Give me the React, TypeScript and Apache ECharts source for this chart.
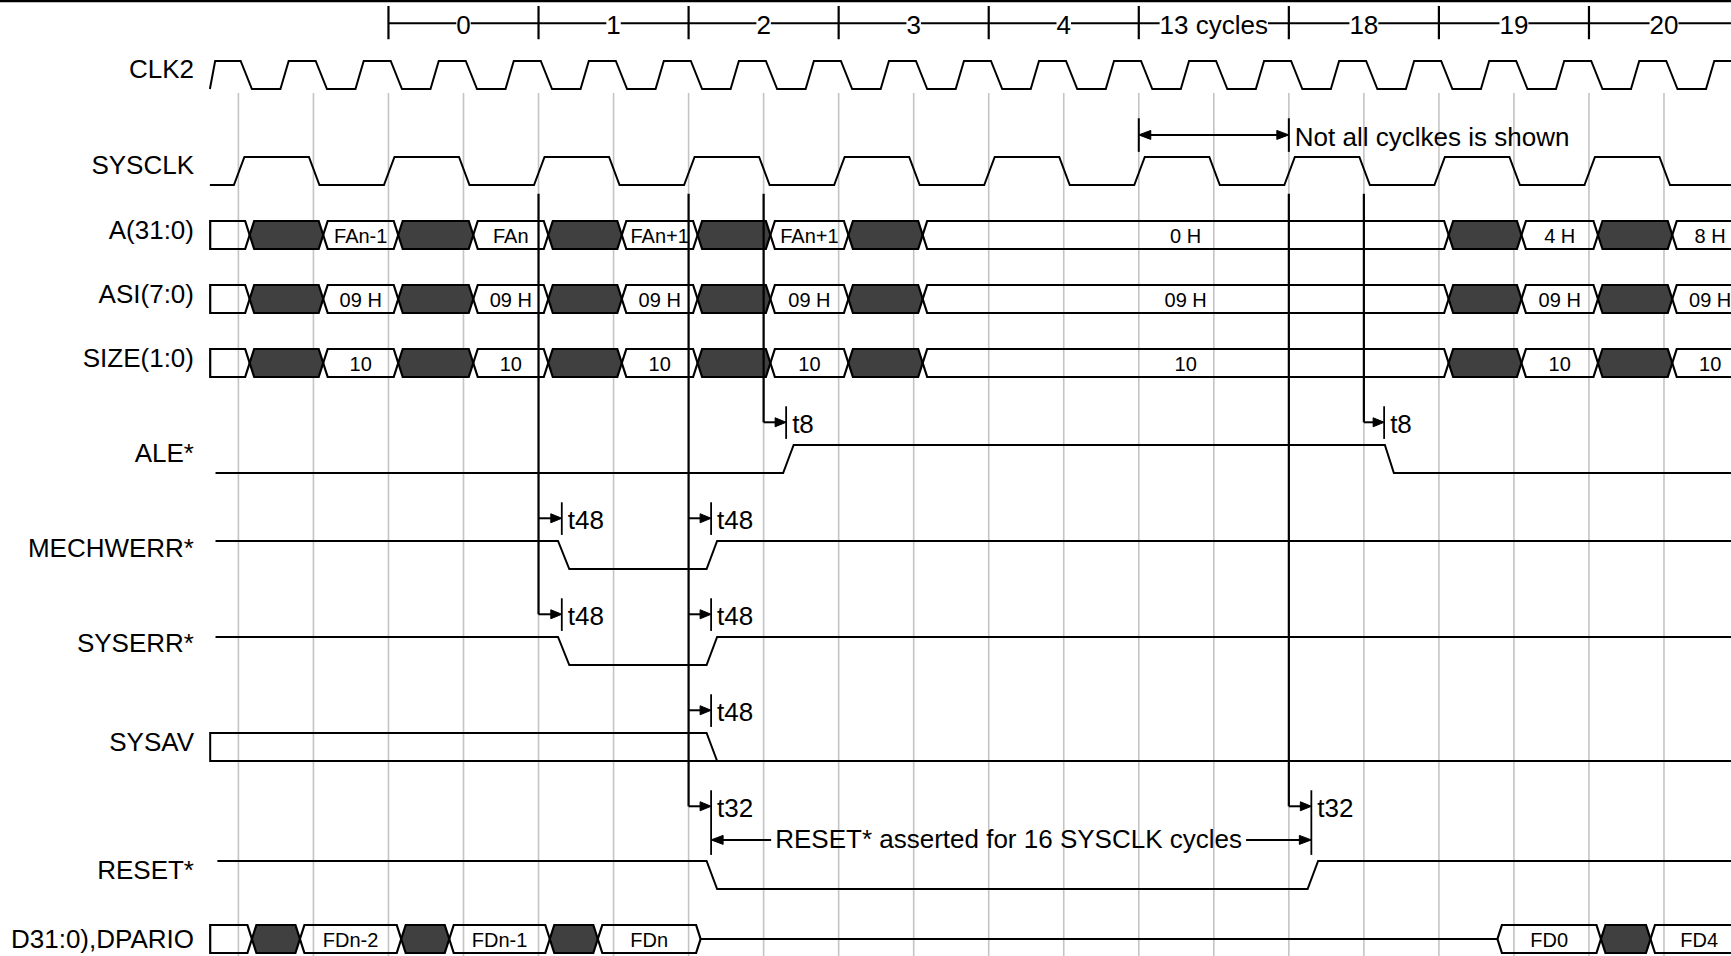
import React, { useEffect, useRef } from "react";
import * as echarts from "echarts";

const WIDTH = 1731;
const HEIGHT = 956;
const FONT = "'Liberation Sans', Arial, Helvetica, sans-serif";
const INK = "#000000";
const DARK = "#404040";
const GRID_GRAY = "#c4c4c4";

// x axis: time in CLK2 periods (gray grid lines), y axis: row units (inverse)
const X_MIN = -3.1774;
const X_MAX = 19.893;
const Y_MIN = 0.09375;
const Y_MAX = 29.96875;
const LOW = 0.875; // distance from high level to low level of a row

// ---------------- signals ----------------
const signalNames = [
  "CLK2",
  "SYSCLK",
  "A(31:0)",
  "ASI(7:0)",
  "SIZE(1:0)",
  "ALE*",
  "MECHWERR*",
  "SYSERR*",
  "SYSAV",
  "RESET*",
  "D31:0),DPARIO",
];
const signalRows = [2, 5, 7, 9, 11, 14, 17, 20, 23, 27, 29];
const labelDy = [0.24, 0.26, 0.27, 0.28, 0.28, 0.25, 0.22, 0.2, 0.27, 0.28, 0.44];
const LABEL_RIGHT_T = -0.592;

// gray grid lines (one per CLK2 period)
const gridTimes = [0, 1, 2, 3, 4, 5, 6, 7, 8, 9, 10, 11, 12, 13, 14, 15, 16, 17, 18, 19];
const GRID_TOP = 3.0;

// cycle counter on top
const cycleTicks = [2, 4, 6, 8, 10, 12, 14, 16, 18];
const cycleLabels = ["0", "1", "2", "3", "4", "13 cycles", "18", "19", "20"];

// clocks
const clk2Falls = [0.03, 1.03, 2.03, 3.03, 4.03, 5.03, 6.03, 7.03, 8.03, 9.03, 10.03, 11.03, 12.03, 13.03, 14.03, 15.03, 16.03, 17.03, 18.03, 19.03];
const clk2Rises = [0.56, 1.56, 2.56, 3.56, 4.56, 5.56, 6.56, 7.56, 8.56, 9.56, 10.56, 11.56, 12.56, 13.56, 14.56, 15.56, 16.56, 17.56, 18.56, 19.56];
const sysclkEdges = [0, 1, 2, 3, 4, 5, 6, 7, 8, 9, 10, 11, 12, 13, 14, 15, 16, 17, 18, 19]; // rise, fall, rise ...

// single-bit signals: [time, level(1 high, 0 low)]
const aleWave = [[-0.305, 0], [7.26, 0], [7.4, 1], [15.28, 1], [15.4, 0], [20.3, 0]];
const mechwerrWave = [[-0.305, 1], [4.26, 1], [4.41, 0], [6.24, 0], [6.38, 1], [20.3, 1]];
const syserrWave = [[-0.305, 1], [4.26, 1], [4.41, 0], [6.24, 0], [6.38, 1], [20.3, 1]];
const sysavWave = [[20.3, 0], [-0.376, 0], [-0.376, 1], [6.24, 1], [6.38, 0]];
const resetWave = [[-0.28, 1], [6.24, 1], [6.38, 0], [14.25, 0], [14.39, 1], [20.3, 1]];
const dFloatWave = [[6.15, 0.5], [16.79, 0.5]];

// buses: transition times and values (null = changing / invalid)
const busTimes = [-0.376, 0.15, 1.13, 2.13, 3.13, 4.13, 5.11, 6.12, 7.09, 8.13, 9.12, 16.13, 17.1, 18.12, 19.11, 20.12];
const aValues = ["", null, "FAn-1", null, "FAn", null, "FAn+1", null, "FAn+1", null, "0 H", null, "4 H", null, "8 H"];
const asiValues = ["", null, "09 H", null, "09 H", null, "09 H", null, "09 H", null, "09 H", null, "09 H", null, "09 H"];
const sizeValues = ["", null, "10", null, "10", null, "10", null, "10", null, "10", null, "10", null, "10"];
const dTimesA = [-0.376, 0.18, 0.82, 2.17, 2.81, 4.15, 4.79, 6.16];
const dValuesA = ["", null, "FDn-2", null, "FDn-1", null, "FDn"];
const dTimesB = [16.78, 18.16, 18.82, 20.12];
const dValuesB = ["FD0", null, "FD4"];

// timing annotations
const markerLines = [
  { t: 4, y1: 6.15, y2: 19.29 },
  { t: 6, y1: 6.15, y2: 25.29 },
  { t: 7, y1: 6.15, y2: 13.29 },
  { t: 14, y1: 6.15, y2: 25.29 },
  { t: 15, y1: 6.15, y2: 13.29 },
];
const timingArrows = [
  { from: 7, to: 7.3, y: 13.29, label: "t8", barEnd: 0 },
  { from: 15, to: 15.27, y: 13.29, label: "t8", barEnd: 0 },
  { from: 4, to: 4.31, y: 16.29, label: "t48", barEnd: 0 },
  { from: 6, to: 6.3, y: 16.29, label: "t48", barEnd: 0 },
  { from: 4, to: 4.31, y: 19.29, label: "t48", barEnd: 0 },
  { from: 6, to: 6.3, y: 19.29, label: "t48", barEnd: 0 },
  { from: 6, to: 6.3, y: 22.29, label: "t48", barEnd: 0 },
  { from: 6, to: 6.3, y: 25.29, label: "t32", barEnd: 26.81 },
  { from: 14, to: 14.3, y: 25.29, label: "t32", barEnd: 26.81 },
];
const notShownSpan = [12, 14];
const NOT_SHOWN_Y = 4.31;
const notShownText = "Not all cyclkes is shown";
const resetSpan = [6.3, 14.3];
const resetTextGap = [7.1, 13.43];
const RESET_ARROW_Y = 26.34;
const resetText = "RESET* asserted for 16 SYSCLK cycles";

// ---------------- helpers ----------------
type Seg = { t0: number; t1: number; row: number; value: string | null; first: boolean };
function buildSegs(times: number[], values: (string | null)[], row: number, flatStart: boolean): Seg[] {
  const out: Seg[] = [];
  for (let i = 0; i < values.length; i++) {
    out.push({ t0: times[i], t1: times[i + 1], row, value: values[i], first: flatStart && i === 0 });
  }
  return out;
}
const busSegs: Seg[] = [
  ...buildSegs(busTimes, aValues, signalRows[2], true),
  ...buildSegs(busTimes, asiValues, signalRows[3], true),
  ...buildSegs(busTimes, sizeValues, signalRows[4], true),
  ...buildSegs(dTimesA, dValuesA, signalRows[10], true),
  ...buildSegs(dTimesB, dValuesB, signalRows[10], false),
];

function clk2Points(): number[][] {
  const pts: number[][] = [[-0.38, 0], [-0.31, 1]];
  for (let i = 0; i < clk2Falls.length; i++) {
    pts.push([clk2Falls[i], 1], [clk2Falls[i] + 0.15, 0], [clk2Rises[i], 0], [clk2Rises[i] + 0.11, 1]);
  }
  pts.push([20.3, 1]);
  return pts;
}
function sysclkPoints(): number[][] {
  const pts: number[][] = [[-0.38, 0]];
  sysclkEdges.forEach((e, i) => {
    const rising = i % 2 === 0;
    pts.push([e - 0.06, rising ? 0 : 1], [e + 0.08, rising ? 1 : 0]);
  });
  pts.push([20.3, 0]);
  return pts;
}
function wave(pts: number[][], row: number): number[][] {
  return pts.map(([t, lv]) => [t, row + (1 - lv) * LOW]);
}

function lineEl(x1: number, y1: number, x2: number, y2: number, w = 2, color = INK) {
  return { type: "line", shape: { x1, y1, x2, y2 }, style: { stroke: color, lineWidth: w } };
}
function headEl(x: number, y: number, dir: number, len = 11, half = 4.5) {
  return {
    type: "polygon",
    shape: { points: [[x, y], [x - dir * len, y - half], [x - dir * len, y + half]] },
    style: { fill: INK, stroke: INK, lineWidth: 1 },
  };
}
function textEl(text: string, x: number, y: number, align: string, size: number, bg?: string) {
  const style: any = {
    text,
    x,
    y,
    align,
    verticalAlign: "middle",
    textAlign: align,
    textVerticalAlign: "middle",
    fontSize: size,
    fontFamily: FONT,
    fill: INK,
  };
  if (bg) {
    style.backgroundColor = bg;
    style.padding = [0, 0];
  }
  return { type: "text", style };
}

function buildOption(): any {
  const lineSeries = [
    { data: wave(clk2Points(), signalRows[0]) },
    { data: wave(sysclkPoints(), signalRows[1]) },
    { data: wave(aleWave, signalRows[5]) },
    { data: wave(mechwerrWave, signalRows[6]) },
    { data: wave(syserrWave, signalRows[7]) },
    { data: wave(sysavWave, signalRows[8]) },
    { data: wave(resetWave, signalRows[9]) },
    { data: wave(dFloatWave, signalRows[10]) },
  ].map((s, i) => ({
    type: "line",
    name: "wave" + i,
    data: s.data,
    symbol: "none",
    showSymbol: false,
    silent: true,
    z: 3,
    lineStyle: { color: INK, width: 2, join: "miter" },
  }));

  return {
    animation: false,
    backgroundColor: "#ffffff",
    grid: { left: 0, right: 0, top: 0, bottom: 0, containLabel: false },
    xAxis: {
      type: "value",
      min: X_MIN,
      max: X_MAX,
      show: false,
      splitLine: { show: false },
      axisLine: { show: false },
      axisTick: { show: false },
      axisLabel: { show: false },
    },
    yAxis: {
      type: "value",
      min: Y_MIN,
      max: Y_MAX,
      inverse: true,
      show: false,
      splitLine: { show: false },
      axisLine: { show: false },
      axisTick: { show: false },
      axisLabel: { show: false },
    },
    graphic: [
      {
        type: "line",
        silent: true,
        shape: { x1: 0, y1: 1, x2: WIDTH, y2: 1 },
        style: { stroke: INK, lineWidth: 2.5 },
      },
    ],
    series: [
      // gray grid
      {
        type: "custom",
        silent: true,
        z: 1,
        data: gridTimes.map((t) => [t, GRID_TOP]),
        renderItem: (params: any, api: any) => {
          const t = gridTimes[params.dataIndex];
          const p1 = api.coord([t, GRID_TOP]);
          const p2 = api.coord([t, Y_MAX]);
          return lineEl(p1[0], p1[1], p2[0], p2[1], 1.6, GRID_GRAY);
        },
      },
      // buses
      {
        type: "custom",
        silent: true,
        z: 2,
        data: busSegs.map((s) => [s.t0, s.row]),
        renderItem: (params: any, api: any) => {
          const s = busSegs[params.dataIndex];
          const a = api.coord([s.t0, s.row]);
          const b = api.coord([s.t1, s.row + LOW]);
          const x0 = a[0];
          const x1 = b[0];
          const yT = a[1];
          const yB = b[1];
          const yM = (yT + yB) / 2;
          const S = 4.5;
          const left = s.first
            ? [[x0, yB], [x0, yT]]
            : [[x0 + S, yB], [x0, yM], [x0 + S, yT]];
          const right = [[x1 - S, yT], [x1, yM], [x1 - S, yB]];
          const children: any[] = [
            {
              type: "polygon",
              shape: { points: [...left, ...right] },
              style: {
                fill: s.value === null ? DARK : "none",
                stroke: INK,
                lineWidth: 2.2,
                lineJoin: "miter",
              },
            },
          ];
          if (s.value) children.push(textEl(s.value, (x0 + x1) / 2, yM + 1, "center", 20));
          return { type: "group", children };
        },
      },
      ...lineSeries,
      // vertical reference lines
      {
        type: "custom",
        silent: true,
        z: 4,
        data: markerLines.map((m) => [m.t, m.y1]),
        renderItem: (params: any, api: any) => {
          const m = markerLines[params.dataIndex];
          const p1 = api.coord([m.t, m.y1]);
          const p2 = api.coord([m.t, m.y2]);
          return lineEl(p1[0], p1[1], p2[0], p2[1], 2.2);
        },
      },
      // timing arrows
      {
        type: "custom",
        silent: true,
        z: 4,
        data: timingArrows.map((a) => [a.from, a.y]),
        renderItem: (params: any, api: any) => {
          const a = timingArrows[params.dataIndex];
          const p0 = api.coord([a.from, a.y]);
          const p1 = api.coord([a.to, a.y]);
          const barTop = api.coord([a.to, a.y - 0.5]);
          const barBot = api.coord([a.to, Math.max(a.y + 0.52, a.barEnd)]);
          const labelPos = api.coord([a.to + 0.08, a.y + 0.06]);
          return {
            type: "group",
            children: [
              lineEl(p0[0], p0[1], p1[0] - 8, p1[1], 2),
              headEl(p1[0], p1[1], 1),
              lineEl(barTop[0], barTop[1], barBot[0], barBot[1], 1.8),
              textEl(a.label, labelPos[0], labelPos[1], "left", 26),
            ],
          };
        },
      },
      // signal names
      {
        type: "custom",
        silent: true,
        z: 4,
        data: signalRows.map((r) => [LABEL_RIGHT_T, r]),
        renderItem: (params: any, api: any) => {
          const i = params.dataIndex;
          const p = api.coord([LABEL_RIGHT_T, signalRows[i] + labelDy[i]]);
          return textEl(signalNames[i], p[0], p[1], "right", 26);
        },
      },
      // cycle counter
      {
        type: "custom",
        silent: true,
        z: 4,
        data: [[cycleTicks[0], 0.8]],
        renderItem: (params: any, api: any) => {
          const children: any[] = [];
          const l0 = api.coord([cycleTicks[0], 0.82]);
          const l1 = api.coord([20.3, 0.82]);
          children.push(lineEl(l0[0], l0[1], l1[0], l1[1], 2));
          cycleTicks.forEach((t) => {
            const a = api.coord([t, 0.28]);
            const b = api.coord([t, 1.32]);
            children.push(lineEl(a[0], a[1], b[0], b[1], 2.2));
          });
          cycleLabels.forEach((lab, i) => {
            const p = api.coord([cycleTicks[i] + 1, 0.86]);
            children.push(textEl(lab, p[0], p[1], "center", 26, "#ffffff"));
          });
          return { type: "group", children };
        },
      },
      // span annotations
      {
        type: "custom",
        silent: true,
        z: 4,
        data: [[notShownSpan[0], NOT_SHOWN_Y]],
        renderItem: (params: any, api: any) => {
          const children: any[] = [];
          // "Not all cycles shown" span
          const a = api.coord([notShownSpan[0], NOT_SHOWN_Y]);
          const b = api.coord([notShownSpan[1], NOT_SHOWN_Y]);
          const bt = api.coord([notShownSpan[0], NOT_SHOWN_Y - 0.52]);
          const bb = api.coord([notShownSpan[0], NOT_SHOWN_Y + 0.53]);
          children.push(lineEl(a[0] + 8, a[1], b[0] - 8, b[1], 2));
          children.push(headEl(a[0], a[1], -1, 12, 4.5));
          children.push(headEl(b[0], b[1], 1, 12, 4.5));
          children.push(lineEl(a[0], bt[1], a[0], bb[1], 2));
          children.push(lineEl(b[0], bt[1], b[0], bb[1], 2));
          const tp = api.coord([notShownSpan[1] + 0.08, NOT_SHOWN_Y + 0.05]);
          children.push(textEl(notShownText, tp[0], tp[1], "left", 26));
          // RESET* span
          const r0 = api.coord([resetSpan[0], RESET_ARROW_Y]);
          const r1 = api.coord([resetSpan[1], RESET_ARROW_Y]);
          const g0 = api.coord([resetTextGap[0], RESET_ARROW_Y]);
          const g1 = api.coord([resetTextGap[1], RESET_ARROW_Y]);
          children.push(lineEl(r0[0] + 8, r0[1], g0[0], g0[1], 2));
          children.push(lineEl(g1[0], g1[1], r1[0] - 8, r1[1], 2));
          children.push(headEl(r0[0], r0[1], -1, 12, 4.5));
          children.push(headEl(r1[0], r1[1], 1, 12, 4.5));
          const rc = api.coord([(resetTextGap[0] + resetTextGap[1]) / 2, RESET_ARROW_Y - 0.03]);
          children.push(textEl(resetText, rc[0], rc[1], "center", 26));
          return { type: "group", children };
        },
      },
    ],
  };
}

export default function App() {
  const ref = useRef<HTMLDivElement>(null);
  useEffect(() => {
    if (!ref.current) return;
    const chart = echarts.init(ref.current, undefined, { renderer: "svg", width: WIDTH, height: HEIGHT });
    chart.setOption(buildOption());
    return () => {
      chart.dispose();
    };
  }, []);
  return (
    <div
      ref={ref}
      style={{ position: "absolute", left: 0, top: 0, width: WIDTH, height: HEIGHT, background: "#ffffff" }}
    />
  );
}
